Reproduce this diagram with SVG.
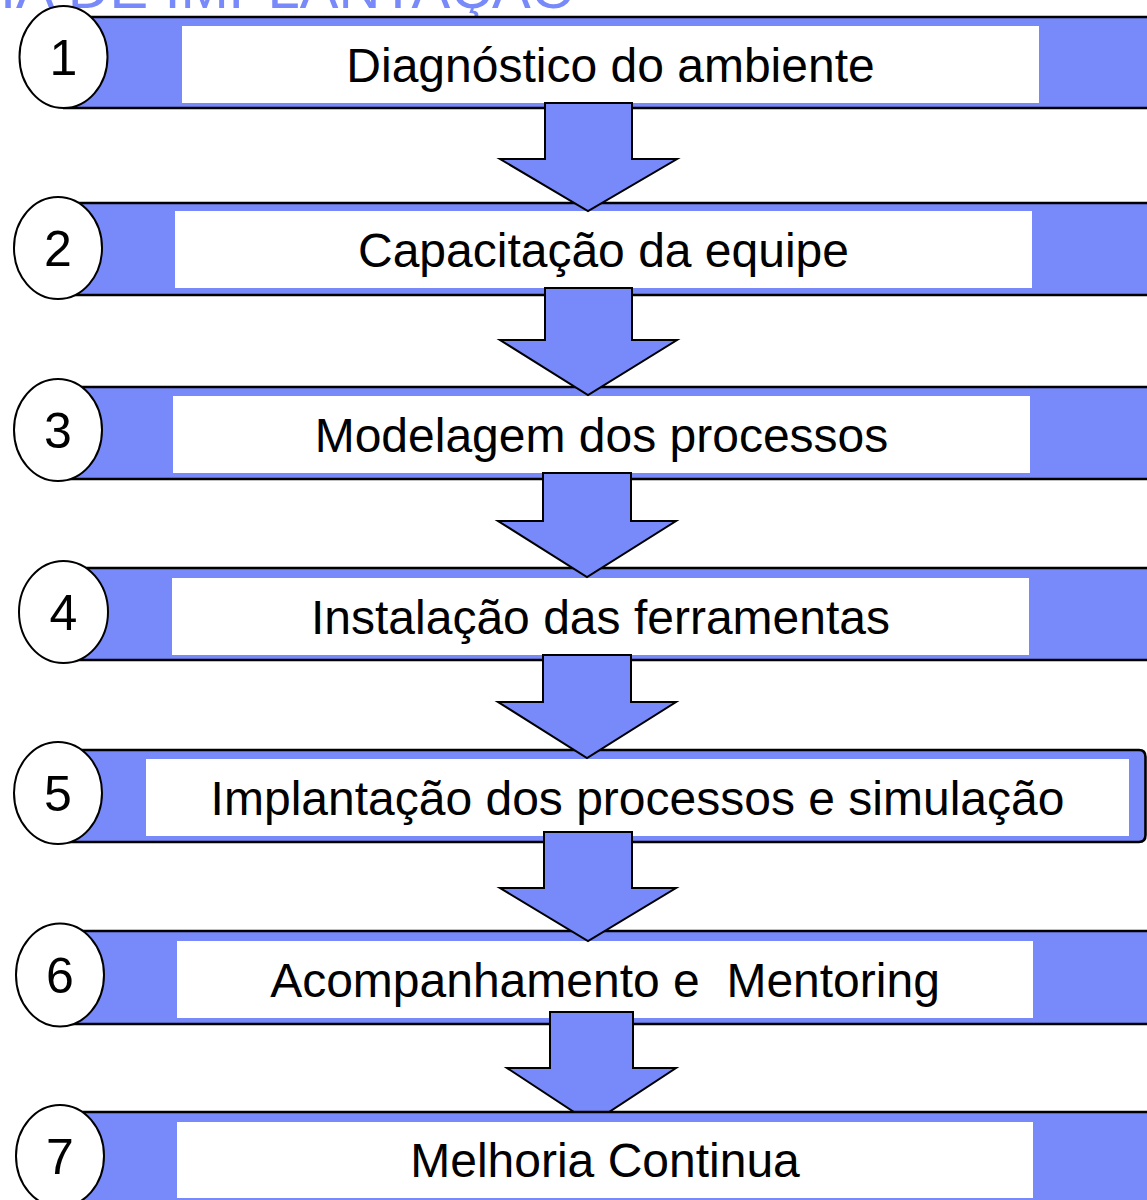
<svg xmlns="http://www.w3.org/2000/svg" width="1147" height="1200" viewBox="0 0 1147 1200">
<style>
.bar{fill:#7889FA;stroke:none}
.edge{stroke:#000;stroke-width:2.6;fill:none}
.box{fill:#fff;stroke:none}
.num{fill:#fff;stroke:#000;stroke-width:2}
.lbl{font-family:"Liberation Sans",Arial,sans-serif;font-size:48px;fill:#000;text-anchor:middle;white-space:pre}
.dig{font-family:"Liberation Sans",Arial,sans-serif;font-size:50px;fill:#000;text-anchor:middle}
.title{font-family:"Liberation Sans",Arial,sans-serif;font-size:58px;fill:#7889FA}
.arr{fill:#7889FA;stroke:#000;stroke-width:2;stroke-linejoin:miter}
</style>
<rect x="0" y="0" width="1147" height="1200" fill="#fff"/>
<text class="title" x="0" y="7.5">IA DE IMPLANTAÇÃO</text>

<g id="step1">
<rect class="bar" x="63" y="17" width="1100" height="91"/>
<line class="edge" x1="63" y1="17" x2="1160" y2="17"/>
<line class="edge" x1="63" y1="108" x2="1160" y2="108"/>
<rect class="box" x="182" y="26" width="857" height="77"/>
<ellipse class="num" cx="63.5" cy="57" rx="44" ry="51"/>
<text class="dig" x="63.5" y="75">1</text>
<text class="lbl" x="610.5" y="81.5">Diagnóstico do ambiente</text>
</g>

<g id="step2">
<rect class="bar" x="58" y="203" width="1100" height="92"/>
<line class="edge" x1="58" y1="203" x2="1160" y2="203"/>
<line class="edge" x1="58" y1="295" x2="1160" y2="295"/>
<rect class="box" x="175" y="211" width="857" height="77"/>
<ellipse class="num" cx="58" cy="248" rx="44" ry="51"/>
<text class="dig" x="58" y="266">2</text>
<text class="lbl" x="603.5" y="266.5">Capacitação da equipe</text>
</g>

<g id="step3">
<rect class="bar" x="58" y="387" width="1100" height="92"/>
<line class="edge" x1="58" y1="387" x2="1160" y2="387"/>
<line class="edge" x1="58" y1="479" x2="1160" y2="479"/>
<rect class="box" x="173" y="396" width="857" height="77"/>
<ellipse class="num" cx="58" cy="430" rx="44" ry="51"/>
<text class="dig" x="58" y="448">3</text>
<text class="lbl" x="601.5" y="451.5">Modelagem dos processos</text>
</g>

<g id="step4">
<rect class="bar" x="63" y="568" width="1100" height="92"/>
<line class="edge" x1="63" y1="568" x2="1160" y2="568"/>
<line class="edge" x1="63" y1="660" x2="1160" y2="660"/>
<rect class="box" x="172" y="578" width="857" height="77"/>
<ellipse class="num" cx="63.5" cy="612" rx="44.5" ry="51"/>
<text class="dig" x="63.5" y="630">4</text>
<text class="lbl" x="600.5" y="633.5">Instalação das ferramentas</text>
</g>

<g id="step5">
<path class="bar" d="M58 750 H1139 Q1145.5 750 1145.5 757 V835 Q1145.5 842 1139 842 H58 Z"/>
<path class="edge" d="M58 750 H1139 Q1145.5 750 1145.5 757 V835 Q1145.5 842 1139 842 H58"/>
<rect class="box" x="146" y="759" width="983" height="77"/>
<ellipse class="num" cx="58" cy="793" rx="44" ry="51"/>
<text class="dig" x="58" y="811">5</text>
<text class="lbl" x="637.5" y="814.5">Implantação dos processos e simulação</text>
</g>

<g id="step6">
<rect class="bar" x="60" y="931" width="1100" height="93"/>
<line class="edge" x1="60" y1="931" x2="1160" y2="931"/>
<line class="edge" x1="60" y1="1024" x2="1160" y2="1024"/>
<rect class="box" x="177" y="941" width="856" height="77"/>
<ellipse class="num" cx="60" cy="975" rx="44" ry="51.5"/>
<text class="dig" x="60" y="993">6</text>
<text class="lbl" x="605" y="996.5">Acompanhamento e  Mentoring</text>
</g>

<g id="connectors">
<polygon class="arr" points="545,103 632,103 632,159 677,159 588,211 500,159 545,159"/>
<polygon class="arr" points="545,288 632,288 632,340 677,340 588,395 500,340 545,340"/>
<polygon class="arr" points="543,473 631,473 631,521 676,521 587,577 498,521 543,521"/>
<polygon class="arr" points="543,655 631,655 631,702 676,702 587,758 498,702 543,702"/>
<polygon class="arr" points="544,832 632,832 632,888 676,888 588,941 500,888 544,888"/>
<polygon class="arr" points="550,1012 633,1012 633,1068 676,1068 591.5,1123.5 507,1068 550,1068"/>
</g>

<g id="step7">
<rect class="bar" x="60" y="1112" width="1100" height="95"/>
<line class="edge" x1="60" y1="1112" x2="1160" y2="1112"/>
<rect class="box" x="177" y="1122" width="856" height="76"/>
<ellipse class="num" cx="60" cy="1156" rx="44" ry="51"/>
<text class="dig" x="60" y="1174">7</text>
<text class="lbl" x="605" y="1177">Melhoria Continua</text>
</g>
</svg>
